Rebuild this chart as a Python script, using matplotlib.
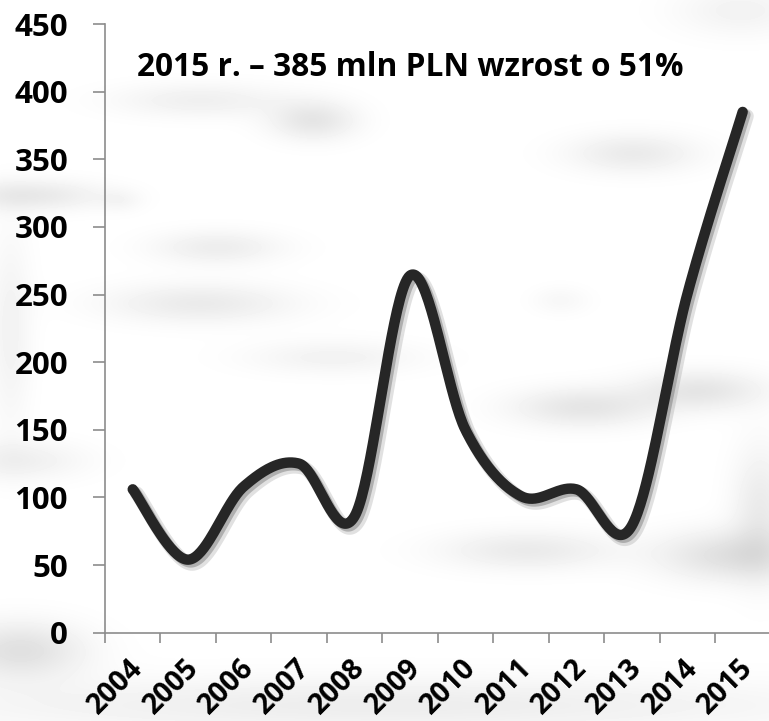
import numpy as np
import matplotlib.pyplot as plt
import matplotlib.patheffects as pe
from matplotlib.ticker import MultipleLocator, FixedLocator
from matplotlib.transforms import ScaledTranslation

years = ['2004', '2005', '2006', '2007', '2008', '2009',
         '2010', '2011', '2012', '2013', '2014', '2015']
values = [106, 54, 108, 125, 86, 264, 150, 101, 106, 79, 250, 385]
note = '2015 r. – 385 mln PLN wzrost o 51%'

W, H = 769, 721
plt.rcParams['font.family'] = ['Open Sans', 'DejaVu Sans']
plt.rcParams['font.weight'] = 'bold'


def smooth(xs, ys, n=40):
    # excel-like smoothed line: bezier segments with catmull-rom control points
    xs = np.asarray(xs, float)
    ys = np.asarray(ys, float)
    px = np.concatenate([[xs[0]], xs, [xs[-1]]])
    py = np.concatenate([[ys[0]], ys, [ys[-1]]])
    outx, outy = [], []
    t = np.linspace(0, 1, n)
    for i in range(1, len(px) - 2):
        p0 = np.array([px[i], py[i]])
        p3 = np.array([px[i + 1], py[i + 1]])
        c1 = p0 + (np.array([px[i + 1], py[i + 1]]) - np.array([px[i - 1], py[i - 1]])) / 6
        c2 = p3 - (np.array([px[i + 2], py[i + 2]]) - np.array([px[i], py[i]])) / 6
        b = ((1 - t) ** 3)[:, None] * p0 + (3 * (1 - t) ** 2 * t)[:, None] * c1 \
            + (3 * (1 - t) * t ** 2)[:, None] * c2 + (t ** 3)[:, None] * p3
        outx.extend(b[:, 0])
        outy.extend(b[:, 1])
    return np.array(outx), np.array(outy)


fig = plt.figure(figsize=(W / 100, H / 100), dpi=100)

# soft grey blobs in the background
blobs = [
    (200, 100, 60, 12, 0.06), (313, 120, 30, 14, 0.10), (217, 247, 45, 12, 0.07),
    (200, 303, 65, 14, 0.08), (30, 195, 50, 11, 0.09), (120, 200, 15, 8, 0.03),
    (333, 357, 60, 12, 0.05), (583, 407, 50, 14, 0.10), (700, 390, 45, 14, 0.10),
    (527, 550, 60, 14, 0.08), (730, 555, 50, 18, 0.12), (633, 153, 45, 14, 0.08),
    (760, 510, 20, 45, 0.08), (20, 460, 45, 14, 0.06), (20, 650, 45, 20, 0.12),
    (380, 705, 320, 20, 0.07), (740, 10, 45, 18, 0.05), (10, 330, 15, 70, 0.05),
    (560, 300, 20, 10, 0.03),
]
yy, xx = np.mgrid[0:H, 0:W]
shade = np.zeros((H, W))
for bx, by, sx, sy, a in blobs:
    shade += a * np.exp(-((xx - bx) ** 2 / (2 * sx ** 2) + (yy - by) ** 2 / (2 * sy ** 2)))
bg = fig.add_axes([0, 0, 1, 1], zorder=-1)
bg.imshow(1 - np.clip(shade, 0, 0.3), cmap='gray', vmin=0, vmax=1,
          extent=[0, W, H, 0], aspect='auto', interpolation='bilinear')
bg.axis('off')

ax = fig.add_axes([105 / W, (H - 632.7) / H, 665.4 / W, 608.7 / H])
ax.set_facecolor('none')

x = np.arange(len(years))
sx_, sy_ = smooth(x, values)
ax.plot(sx_, sy_, color='#262626', lw=7.5, solid_capstyle='round', solid_joinstyle='round',
        clip_on=False,
        path_effects=[pe.SimpleLineShadow(offset=(3, -3), shadow_color='#888888', alpha=0.25, linewidth=10),
                      pe.SimpleLineShadow(offset=(2, -2), shadow_color='#666666', alpha=0.4),
                      pe.Normal()])

ax.set_xlim(-0.5, len(years) - 0.5)
ax.set_ylim(0, 450)
ax.yaxis.set_major_locator(MultipleLocator(50))
ax.set_xticks(x)
ax.set_xticklabels(years, rotation=45, ha='right', va='top', rotation_mode='anchor')
ax.xaxis.set_minor_locator(FixedLocator(np.arange(-0.5, len(years), 1)))

for s in ['top', 'right']:
    ax.spines[s].set_visible(False)
for s in ['left', 'bottom']:
    ax.spines[s].set_color('#8c8c8c')
    ax.spines[s].set_linewidth(1.2)

ax.tick_params(axis='y', length=8.6, width=1.2, color='#8c8c8c', pad=18,
               labelsize=22.5, labelcolor='black')
ax.tick_params(axis='x', which='major', length=0, pad=15, labelsize=20.5, labelcolor='black')
ax.tick_params(axis='x', which='minor', length=7, width=1.2, color='#8c8c8c')
shift = ScaledTranslation(-4 / 100, 0, fig.dpi_scale_trans)
for lab in ax.get_xticklabels():
    lab.set_transform(lab.get_transform() + shift)
for lab in ax.get_yticklabels() + ax.get_xticklabels():
    lab.set_fontweight('bold')

# note placed in pixel coords measured from the top
fig.text(137 / W, 1 - 68 / H, note, fontsize=22.8, fontweight='bold',
         ha='left', va='center')

fig.savefig('out.png', dpi=100)
